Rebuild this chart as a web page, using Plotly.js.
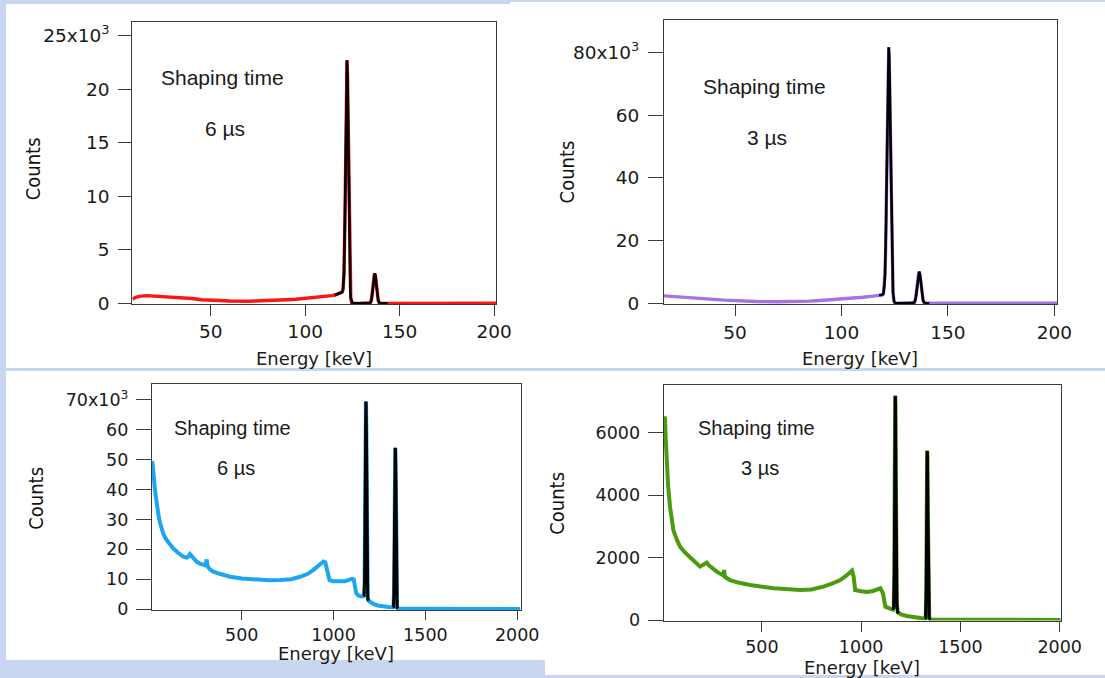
<!DOCTYPE html>
<html><head><meta charset="utf-8">
<script src="https://cdn.plot.ly/plotly-3.0.1.min.js"></script>
<style>html,body{margin:0;padding:0;background:#c9d6ef}#chart{width:1105px;height:678px}</style>
</head><body><div id="chart"></div>
<script>
// ---------- Top-left: 57Co, shaping time 6 us (red) ----------
const tlBgLeftX = [8.5, 10, 12, 14, 16, 18, 20, 25, 30, 35, 40, 45, 50, 55, 60, 70, 80, 90, 95, 100, 105, 110, 114];
const tlBgLeftY = [400, 550, 650, 700, 720, 700, 680, 640, 620, 560, 450, 340, 280, 240, 220, 200, 240, 330, 380, 450, 520, 620, 720];
const tlFitX = [115.7, 117, 118, 118.5, 119, 119.5, 120, 120.5, 121, 121.35, 121.6, 121.85, 122.1, 122.35, 122.6, 122.85, 123.1, 123.35, 123.6, 123.85, 124.1, 124.6, 125, 126, 128, 130, 132, 133.5, 134.5, 135, 135.5, 136, 136.4, 136.8, 137.2, 137.6, 138.1, 138.6, 139.1, 140, 142, 143.6];
const tlFitY = [780, 860, 920, 960, 1000, 1050, 1320, 2820, 7770, 13700, 18140, 21500, 22700, 21370, 17840, 13200, 8650, 5030, 2590, 1180, 480, 55, 15, 0, 0, 0, 0, 0, 72, 297, 870, 1800, 2510, 2800, 2510, 1800, 870, 297, 72, 0, 0, 0];
const tlBgRightX = [145, 150, 160, 170, 180, 190, 200, 201];
const tlBgRightY = [40, 30, 30, 20, 20, 20, 20, 20];

// ---------- Top-right: 57Co, shaping time 3 us (purple) ----------
const trBgLeftX = [16.6, 20, 25, 30, 35, 40, 45, 50, 55, 60, 70, 80, 85, 90, 95, 100, 105, 110, 115];
const trBgLeftY = [2380, 2250, 2000, 1750, 1500, 1250, 1000, 800, 650, 550, 500, 550, 700, 900, 1100, 1350, 1650, 1950, 2300];
const trFitX = [117.7, 118.9, 119.2, 119.7, 120.2, 120.45, 120.7, 120.95, 121.2, 121.45, 121.7, 121.95, 122.2, 122.45, 122.7, 122.95, 123.2, 123.45, 123.7, 123.95, 124.2, 124.7, 125.2, 126, 128, 130, 132, 134.2, 134.7, 135.2, 135.7, 136.1, 136.5, 136.9, 137.3, 137.8, 138.3, 138.8, 139.5, 141.2];
const trFitY = [2550, 2650, 2680, 3100, 5900, 9500, 15750, 25400, 38300, 53200, 67540, 77880, 81700, 77780, 67240, 52610, 37420, 24100, 14050, 7470, 3590, 620, 72, 0, 0, 0, 0, 260, 1070, 3130, 6480, 9040, 10100, 9040, 6480, 3130, 1070, 260, 30, 0];
const trBgRightX = [145, 150, 160, 170, 180, 190, 200, 201.4];
const trBgRightY = [60, 50, 40, 40, 30, 30, 30, 30];

// ---------- Bottom-left: 60Co, shaping time 6 us (blue) ----------
const blBgLeftX = [12, 15, 20, 27, 35, 45, 55, 64, 75, 91, 110, 127, 150, 170, 182, 200, 210, 218, 226, 240, 255, 270, 290, 302, 309, 314, 325, 345, 380, 436, 500, 582, 650, 709, 770, 818, 860, 890, 920, 945, 955, 963, 970, 978, 1000, 1036, 1060, 1081, 1100, 1110, 1118, 1123, 1135, 1150];
const blBgLeftY = [49600, 48500, 45000, 40000, 35500, 32000, 28800, 26500, 24800, 23100, 21600, 20300, 19000, 18000, 17500, 17200, 17600, 18400, 17800, 16600, 15800, 15300, 14800, 14600, 16600, 14400, 13400, 12500, 11800, 10800, 10200, 9700, 9600, 9700, 10000, 10800, 11800, 13100, 14500, 15900, 15600, 13500, 10800, 9700, 9300, 9100, 9300, 9700, 10100, 9900, 7500, 5300, 4500, 4200];
const blFitX = [1163, 1166, 1169, 1171, 1173, 1175, 1176, 1177, 1179, 1181, 1183, 1186, 1190];
const blFitY = [4300, 4500, 9000, 30000, 58000, 68500, 69500, 68500, 58000, 30000, 9000, 3600, 2800];
const blMidX = [1200, 1217, 1240, 1272, 1300, 1318];
const blMidY = [2300, 1700, 1200, 800, 650, 600];
const blFit2X = [1322, 1326, 1329, 1331, 1333, 1335, 1336, 1337, 1339, 1341, 1343, 1346, 1350];
const blFit2Y = [550, 700, 5000, 20000, 44000, 53000, 54000, 53000, 44000, 20000, 5000, 500, 150];
const blBgRightX = [1363, 1400, 1500, 1600, 1700, 1800, 1900, 2000, 2017];
const blBgRightY = [100, 80, 60, 50, 40, 40, 30, 30, 30];

// ---------- Bottom-right: 60Co, shaping time 3 us (green) ----------
const brBgLeftX = [8, 12.4, 16, 21, 28, 37.6, 45, 54.2, 70, 88, 110, 138, 160, 189, 205, 215, 222.6, 232, 250, 273, 300, 306, 310, 314, 340, 380, 441, 500, 558, 620, 693, 750, 810, 860, 895, 925, 954, 962, 970, 1000, 1030, 1060, 1085, 1097, 1110, 1122, 1140, 1156];
const brBgLeftY = [6520, 6450, 5800, 5020, 4300, 3630, 3200, 2880, 2600, 2350, 2180, 2030, 1880, 1710, 1760, 1820, 1840, 1760, 1650, 1550, 1450, 1430, 1600, 1380, 1280, 1200, 1120, 1060, 1015, 990, 960, 980, 1070, 1180, 1280, 1420, 1580, 1400, 960, 920, 900, 930, 1000, 1015, 855, 427, 380, 340];
const brFitX = [1160, 1164, 1167, 1169, 1171, 1172, 1173, 1175, 1177, 1180, 1184, 1189];
const brFitY = [330, 400, 1500, 4500, 6900, 7180, 6900, 4500, 1500, 500, 250, 213];
const brMidX = [1200, 1230, 1264.5, 1290, 1315];
const brMidY = [180, 130, 85, 65, 50];
const brFit2X = [1321, 1325, 1328, 1330, 1331.5, 1332.5, 1334, 1336, 1339, 1343, 1350];
const brFit2Y = [45, 60, 1000, 3500, 5250, 5420, 5250, 3500, 1000, 60, 15];
const brBgRightX = [1357, 1400, 1500, 1600, 1700, 1800, 1900, 2000, 2005];
const brBgRightY = [10, 10, 8, 6, 5, 5, 5, 5, 5];

// ---------- Tick labels ----------
const lowXTicks = [50, 100, 150, 200];
const highXTicks = [500, 1000, 1500, 2000];
const tlYTicks = [0, 5000, 10000, 15000, 20000, 25000];
const tlYText = ['0', '5', '10', '15', '20', '25x10<sup>3</sup>'];
const trYTicks = [0, 20000, 40000, 60000, 80000];
const trYText = ['0', '20', '40', '60', '80x10<sup>3</sup>'];
const blYTicks = [0, 10000, 20000, 30000, 40000, 50000, 60000, 70000];
const blYText = ['0', '10', '20', '30', '40', '50', '60', '70x10<sup>3</sup>'];
const brYTicks = [0, 2000, 4000, 6000];
const brYText = ['0', '2000', '4000', '6000'];
const panelLabels = ['6 µs', '3 µs', '6 µs', '3 µs'];

// ---------- Build ----------
const W = 1105, H = 678;
const fx = v => v / W, fy = v => 1 - v / H;
const cat = (...a) => [].concat(...a);

function line(x, y, color, width, xa, ya) {
  return {x: x, y: y, type: 'scatter', mode: 'lines', line: {color: color, width: width},
          xaxis: xa, yaxis: ya, hoverinfo: 'skip', showlegend: false};
}

const traces = [
  line(cat(tlBgLeftX, tlFitX, tlBgRightX), cat(tlBgLeftY, tlFitY, tlBgRightY), '#ff1414', 3.4, 'x', 'y'),
  line(tlFitX, tlFitY, '#000000', 2.6, 'x', 'y'),
  line(cat(trBgLeftX, trFitX, trBgRightX), cat(trBgLeftY, trFitY, trBgRightY), '#a673e6', 3.4, 'x2', 'y2'),
  line(trFitX, trFitY, '#000000', 2.6, 'x2', 'y2'),
  line(cat(blBgLeftX, blFitX, blMidX, blFit2X, blBgRightX), cat(blBgLeftY, blFitY, blMidY, blFit2Y, blBgRightY), '#1ca6f2', 4, 'x3', 'y3'),
  line(blFitX, blFitY, '#000000', 3, 'x3', 'y3'),
  line(blFit2X, blFit2Y, '#000000', 3, 'x3', 'y3'),
  line(cat(brBgLeftX, brFitX, brMidX, brFit2X, brBgRightX), cat(brBgLeftY, brFitY, brMidY, brFit2Y, brBgRightY), '#4b9b0e', 4, 'x4', 'y4'),
  line(brFitX, brFitY, '#000000', 3, 'x4', 'y4'),
  line(brFit2X, brFit2Y, '#000000', 3, 'x4', 'y4')
];

function axis(domain, anchor, range, tickvals, ticktext, len, fsize, standoff) {
  return {domain: domain, anchor: anchor, range: range, tickmode: 'array', tickvals: tickvals,
          ticktext: ticktext, showline: true, linecolor: '#3a3a3a', linewidth: 1, mirror: true,
          ticks: 'outside', ticklen: len, tickcolor: '#3a3a3a', tickwidth: 1, showgrid: false,
          zeroline: false, fixedrange: true, ticklabelstandoff: standoff,
          tickfont: {family: 'DejaVu Sans, Verdana, sans-serif', size: fsize, color: '#1a1a1a'}};
}

const layout = {
  width: W, height: H, margin: {l: 0, r: 0, t: 0, b: 0},
  paper_bgcolor: '#c9d6ef', plot_bgcolor: '#ffffff', showlegend: false,
  xaxis:  axis([fx(132.3), fx(496)], 'y', [8.4, 201], lowXTicks, lowXTicks.map(String), 11, 18.5, 0),
  yaxis:  axis([fy(304), fy(22.3)], 'x', [-60, 26250], tlYTicks, tlYText, 13, 18.5, 5),
  xaxis2: axis([fx(664), fx(1057.3)], 'y2', [16.6, 201.4], lowXTicks, lowXTicks.map(String), 11, 18.5, 0),
  yaxis2: axis([fy(304.3), fy(20)], 'x2', [-320, 90400], trYTicks, trYText, 15, 18.5, 5),
  xaxis3: axis([fx(151.6), fx(520.5)], 'y3', [9, 2018], highXTicks, highXTicks.map(String), 9, 17.5, 0),
  yaxis3: axis([fy(610), fy(384.3)], 'x3', [-330, 75250], blYTicks, blYText, 14.7, 17.5, 4),
  xaxis4: axis([fx(664), fx(1060.7)], 'y4', [7.3, 2005], highXTicks, highXTicks.map(String), 10, 17.5, 0),
  yaxis4: axis([fy(620.5), fy(385)], 'x4', [-15, 7526], brYTicks, brYText, 15.4, 17.5, 4),
  shapes: [
    {type: 'rect', xref: 'paper', yref: 'paper', x0: fx(6), x1: fx(510), y0: fy(368), y1: fy(4), fillcolor: '#ffffff', line: {width: 0}, layer: 'below'},
    {type: 'rect', xref: 'paper', yref: 'paper', x0: fx(510), x1: 1, y0: fy(368), y1: fy(2), fillcolor: '#ffffff', line: {width: 0}, layer: 'below'},
    {type: 'rect', xref: 'paper', yref: 'paper', x0: fx(6), x1: fx(545), y0: fy(660), y1: fy(371), fillcolor: '#ffffff', line: {width: 0}, layer: 'below'},
    {type: 'rect', xref: 'paper', yref: 'paper', x0: fx(545), x1: 1, y0: fy(675), y1: fy(371), fillcolor: '#ffffff', line: {width: 0}, layer: 'below'}
  ],
  annotations: []
};

function note(text, x, y, font, angle) {
  layout.annotations.push({text: text, xref: 'paper', yref: 'paper', x: fx(x), y: fy(y),
    xanchor: 'center', yanchor: 'middle', showarrow: false, textangle: angle || 0, font: font});
}
const shapeFont = s => ({family: 'Liberation Sans, Arial, sans-serif', size: s, color: '#1a1a1a'});
const countsFont = {family: 'Liberation Sans Narrow, Arial Narrow, DejaVu Sans Condensed, Liberation Sans, sans-serif', size: 20, color: '#111'};
const energyFont = {family: 'DejaVu Sans, Verdana, sans-serif', size: 18, color: '#1a1a1a'};

note('Shaping time', 222.4, 77, shapeFont(21));
note(panelLabels[0], 225.2, 128, shapeFont(21));
note('Shaping time', 764.5, 86, shapeFont(21));
note(panelLabels[1], 767, 137, shapeFont(21));
note('Shaping time', 232.8, 428, shapeFont(20));
note(panelLabels[2], 236.3, 468, shapeFont(20));
note('Shaping time', 756.8, 428, shapeFont(20));
note(panelLabels[3], 759.7, 468, shapeFont(20));

note('Counts', 33.3, 169, countsFont, -90);
note('Counts', 566.7, 171.7, countsFont, -90);
note('Counts', 36.5, 498.3, countsFont, -90);
note('Counts', 557.5, 503.3, countsFont, -90);

note('Energy [keV]', 314, 358.5, energyFont);
note('Energy [keV]', 860, 358.5, energyFont);
note('Energy [keV]', 336, 653.5, energyFont);
note('Energy [keV]', 862, 667, energyFont);

Plotly.newPlot('chart', traces, layout, {staticPlot: true, displayModeBar: false});
</script></body></html>
